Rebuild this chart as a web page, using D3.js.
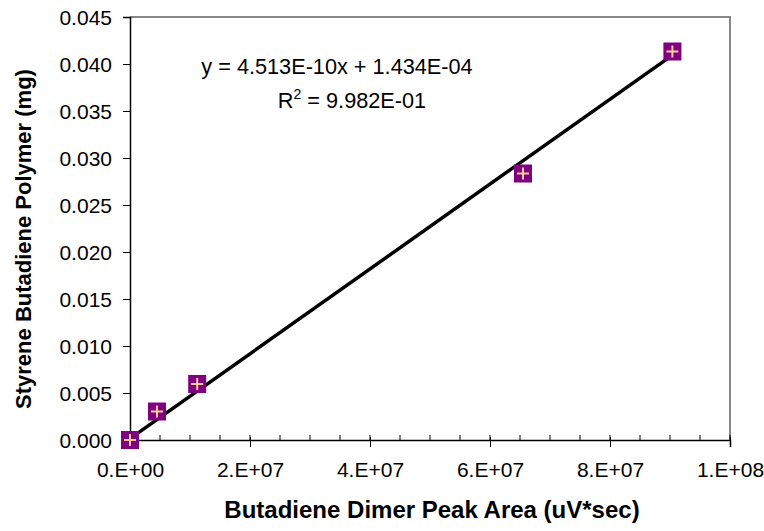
<!DOCTYPE html>
<html>
<meta charset='utf-8'>
<head>
<title>Styrene Butadiene Calibration</title>
<script src='https://d3js.org/d3.v7.min.js'></script>
<style>
body { margin: 0; background: #fff; }
text { font-family: Arial, 'Liberation Sans', sans-serif; fill: #000; }
</style>
</head>

<body>
<div id='my_dataviz'></div>

<script>
// values
var peakArea = [0, 4.5e6, 1.12e7, 6.55e7, 9.04e7]
var polymerMg = [0, 0.00303, 0.00596, 0.02835, 0.04133]
var slope = 4.513e-10, intercept = 1.434e-4
var xTicks = [0, 2e7, 4e7, 6e7, 8e7, 1e8]
var xTickLabels = ['0.E+00', '2.E+07', '4.E+07', '6.E+07', '8.E+07', '1.E+08']
var yTicks = [0, 0.005, 0.010, 0.015, 0.020, 0.025, 0.030, 0.035, 0.040, 0.045]

var margin = {top: 17, right: 34, bottom: 91, left: 130},
    width = 764 - margin.left - margin.right,
    height = 531 - margin.top - margin.bottom;

var root = d3.select('#my_dataviz')
    .append('svg')
    .attr('width', 764)
    .attr('height', 531)

var svg = root.append('g')
    .attr('transform', 'translate(' + margin.left + ',' + margin.top + ')');

var x = d3.scaleLinear().domain([0, 1e8]).range([0, width])
var y = d3.scaleLinear().domain([0, 0.045]).range([height, 0])

// top and right frame
svg.append('path')
    .attr('d', 'M0,0H' + width + 'V' + height)
    .style('fill', 'none')
    .style('stroke', '#888')
    .style('stroke-width', 2)

// y axis
var yAxis = svg.append('g')
    .call(d3.axisLeft(y).tickValues(yTicks).tickSize(7).tickPadding(11).tickFormat(d3.format('.3f')))
yAxis.select('.domain').style('stroke-width', 1.5)
yAxis.selectAll('text').style('font-size', '21px').attr('dy', '0.36em')

// x axis minor ticks (inside)
var minor = d3.range(0, 1e8 + 1, 5e6)
svg.append('g')
    .selectAll('line')
    .data(minor)
    .enter()
    .append('line')
    .attr('x1', (d) => x(d))
    .attr('x2', (d) => x(d))
    .attr('y1', height - 5)
    .attr('y2', height)
    .style('stroke', '#000')

var xAxis = svg.append('g')
    .attr('transform', 'translate(0,' + height + ')')
    .call(d3.axisBottom(x).tickValues(xTicks).tickSize(7).tickPadding(15)
        .tickFormat((d, i) => xTickLabels[i]))
xAxis.select('.domain').style('stroke-width', 1.5)
xAxis.selectAll('.tick line').attr('y1', -3)
xAxis.selectAll('text').style('font-size', '21px')

// trend line
var xMax = d3.max(peakArea)
svg.append('line')
    .attr('x1', x(0))
    .attr('y1', y(intercept))
    .attr('x2', x(xMax))
    .attr('y2', y(slope * xMax + intercept))
    .style('stroke', '#000')
    .style('stroke-width', 3.5)

// markers
var pts = svg.selectAll('.pt')
    .data(peakArea.map((d, i) => [d, polymerMg[i]]))
    .enter()
    .append('g')
    .attr('class', 'pt')
    .attr('transform', (d) => 'translate(' + x(d[0]) + ',' + y(d[1]) + ')')

pts.append('rect')
    .attr('x', -9).attr('y', -9)
    .attr('width', 18).attr('height', 18)
    .style('fill', '#800080')

pts.append('path')
    .attr('d', 'M-6,0H6M0,-6V6')
    .style('stroke', '#FFCC99')
    .style('stroke-width', 2)

// equation
svg.append('text')
    .attr('x', 207)
    .attr('y', 57)
    .style('text-anchor', 'middle')
    .style('font-size', '21.7px')
    .text('y = 4.513E-10x + 1.434E-04')

var r2 = svg.append('text')
    .attr('x', 222)
    .attr('y', 91)
    .style('text-anchor', 'middle')
    .style('font-size', '21.7px')
r2.append('tspan').text('R')
r2.append('tspan').attr('dy', -9).style('font-size', '14px').text('2')
r2.append('tspan').attr('dy', 9).text(' = 9.982E-01')

// axis titles
root.append('text')
    .attr('x', 432)
    .attr('y', 518)
    .style('text-anchor', 'middle')
    .style('font-weight', 'bold')
    .style('font-size', '24px')
    .text('Butadiene Dimer Peak Area (uV*sec)')

root.append('text')
    .attr('transform', 'translate(31,239) rotate(-90)')
    .style('text-anchor', 'middle')
    .style('font-weight', 'bold')
    .style('font-size', '22px')
    .text('Styrene Butadiene Polymer (mg)')
</script>
</body>
</html>
